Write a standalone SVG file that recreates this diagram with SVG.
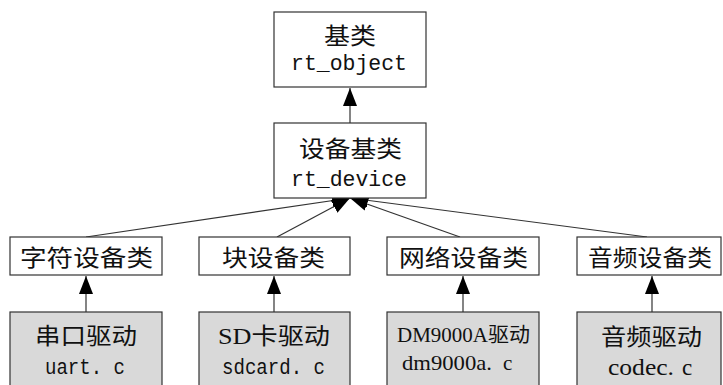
<svg xmlns="http://www.w3.org/2000/svg" width="723" height="385" viewBox="0 0 723 385">
<style>
.box{fill:#ffffff;stroke:#333333;stroke-width:1.2}
.drv{fill:#d9d9d9;stroke:#333333;stroke-width:1.2}
.cn{font-family:"Noto Sans CJK SC","Liberation Serif",serif;font-size:23px;fill:#111;text-anchor:middle}
.mono{font-family:"Liberation Mono","Noto Sans CJK SC",monospace;font-size:22px;fill:#111;text-anchor:middle}
.ser{font-family:"Liberation Serif","Noto Sans CJK SC",serif;font-size:23px;fill:#111;text-anchor:middle}
.st{text-anchor:start}
.conn line{stroke:#333333;stroke-width:1.2;marker-end:url(#arr)}
</style>
<defs>
<marker id="arr" viewBox="0 0 18 14" refX="18" refY="7" markerWidth="18" markerHeight="14" markerUnits="userSpaceOnUse" orient="auto">
<path d="M0,0 L18,7 L0,14 z" fill="#000"/>
</marker>
</defs>
<rect width="723" height="385" fill="#ffffff"/>
<g class="conn">
<line x1="350" y1="123" x2="350" y2="88"/>
<line x1="86" y1="237" x2="350" y2="198"/>
<line x1="277" y1="237" x2="350" y2="198"/>
<line x1="460" y1="237" x2="350" y2="198"/>
<line x1="647" y1="237" x2="350" y2="198"/>
<line x1="86" y1="312" x2="86" y2="276"/>
<line x1="274" y1="312" x2="274" y2="276"/>
<line x1="463" y1="312" x2="463" y2="276"/>
<line x1="652" y1="312" x2="652" y2="276"/>
</g>
<g id="rt_object">
<rect class="box" x="274" y="12" width="152" height="75"/>
<text class="cn" x="350" y="44" textLength="52" lengthAdjust="spacingAndGlyphs">基类</text>
<text class="mono" x="349" y="70" textLength="116" lengthAdjust="spacingAndGlyphs">rt_object</text>
</g>
<g id="rt_device">
<rect class="box" x="274" y="123" width="152" height="75"/>
<text class="cn" x="350.5" y="157" textLength="103" lengthAdjust="spacingAndGlyphs">设备基类</text>
<text class="mono" x="349" y="186" textLength="116" lengthAdjust="spacingAndGlyphs">rt_device</text>
</g>
<g id="char_dev">
<rect class="box" x="10" y="237" width="152" height="38"/>
<text class="cn" x="86.5" y="266" textLength="133" lengthAdjust="spacingAndGlyphs">字符设备类</text>
</g>
<g id="block_dev">
<rect class="box" x="199" y="237" width="151" height="38"/>
<text class="cn" x="273.5" y="266" textLength="103" lengthAdjust="spacingAndGlyphs">块设备类</text>
</g>
<g id="net_dev">
<rect class="box" x="387" y="237" width="152" height="38"/>
<text class="cn" x="463.5" y="266" textLength="129" lengthAdjust="spacingAndGlyphs">网络设备类</text>
</g>
<g id="audio_dev">
<rect class="box" x="577" y="237" width="144" height="38"/>
<text class="cn" x="650" y="266" textLength="124" lengthAdjust="spacingAndGlyphs">音频设备类</text>
</g>
<g id="uart">
<rect class="drv" x="10" y="312" width="152" height="80"/>
<text class="cn" x="86" y="344" textLength="102" lengthAdjust="spacingAndGlyphs">串口驱动</text>
<text class="mono" x="85" y="374" textLength="80" lengthAdjust="spacingAndGlyphs">uart. c</text>
</g>
<g id="sdcard">
<rect class="drv" x="199" y="312" width="151" height="80"/>
<text class="ser" x="274" y="344" textLength="112" lengthAdjust="spacingAndGlyphs">SD卡驱动</text>
<text class="mono" x="273.5" y="374" textLength="103" lengthAdjust="spacingAndGlyphs">sdcard. c</text>
</g>
<g id="dm9000a">
<rect class="drv" x="387" y="312" width="152" height="80"/>
<text class="ser" x="463.5" y="342" style="font-size:20px" textLength="133" lengthAdjust="spacingAndGlyphs">DM9000A驱动</text>
<text class="ser st" x="402" y="370" style="font-size:21px" textLength="90" lengthAdjust="spacingAndGlyphs">dm9000a.</text>
<text class="ser st" x="503" y="370" style="font-size:21px">c</text>
</g>
<g id="codec">
<rect class="drv" x="577" y="312" width="144" height="80"/>
<text class="cn" x="651.5" y="345" textLength="101" lengthAdjust="spacingAndGlyphs">音频驱动</text>
<text class="ser st" x="608" y="375" textLength="66" lengthAdjust="spacingAndGlyphs">codec.</text>
<text class="ser st" x="682" y="375">c</text>
</g>
</svg>
